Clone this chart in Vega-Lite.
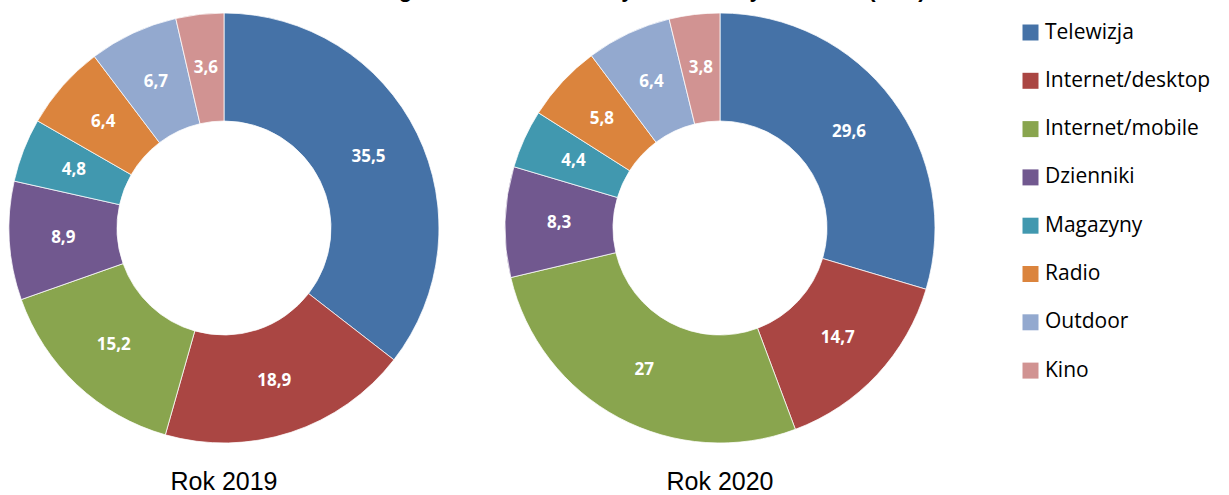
{
  "$schema": "https://vega.github.io/schema/vega-lite/v6.json",
  "background": "white",
  "padding": {"left": 4, "top": -21, "right": 0, "bottom": 0},
  "title": {
    "text": "Udział segmentów mediów w rynku reklamy w Polsce (w %)",
    "font": "Liberation Sans",
    "fontSize": 22,
    "fontWeight": "bold",
    "color": "black",
    "anchor": "middle",
    "offset": 6
  },
  "config": {
    "locale": {"number": {"decimal": ",", "thousands": " ", "grouping": [3], "currency": ["", " zł"]}},
    "view": {"stroke": null}
  },
  "data": {
    "values": [
      {"rok": "Rok 2019", "medium": "Telewizja", "kolejnosc": 1, "wartosc": 35.5},
      {"rok": "Rok 2019", "medium": "Internet/desktop", "kolejnosc": 2, "wartosc": 18.9},
      {"rok": "Rok 2019", "medium": "Internet/mobile", "kolejnosc": 3, "wartosc": 15.2},
      {"rok": "Rok 2019", "medium": "Dzienniki", "kolejnosc": 4, "wartosc": 8.9},
      {"rok": "Rok 2019", "medium": "Magazyny", "kolejnosc": 5, "wartosc": 4.8},
      {"rok": "Rok 2019", "medium": "Radio", "kolejnosc": 6, "wartosc": 6.4},
      {"rok": "Rok 2019", "medium": "Outdoor", "kolejnosc": 7, "wartosc": 6.7},
      {"rok": "Rok 2019", "medium": "Kino", "kolejnosc": 8, "wartosc": 3.6},
      {"rok": "Rok 2020", "medium": "Telewizja", "kolejnosc": 1, "wartosc": 29.6},
      {"rok": "Rok 2020", "medium": "Internet/desktop", "kolejnosc": 2, "wartosc": 14.7},
      {"rok": "Rok 2020", "medium": "Internet/mobile", "kolejnosc": 3, "wartosc": 27},
      {"rok": "Rok 2020", "medium": "Dzienniki", "kolejnosc": 4, "wartosc": 8.3},
      {"rok": "Rok 2020", "medium": "Magazyny", "kolejnosc": 5, "wartosc": 4.4},
      {"rok": "Rok 2020", "medium": "Radio", "kolejnosc": 6, "wartosc": 5.8},
      {"rok": "Rok 2020", "medium": "Outdoor", "kolejnosc": 7, "wartosc": 6.4},
      {"rok": "Rok 2020", "medium": "Kino", "kolejnosc": 8, "wartosc": 3.8}
    ]
  },
  "facet": {
    "column": {
      "field": "rok",
      "type": "nominal",
      "header": {
        "title": null,
        "labelOrient": "bottom",
        "labelFont": "Liberation Sans",
        "labelFontSize": 25,
        "labelColor": "black",
        "labelPadding": 22
      }
    }
  },
  "spacing": 56,
  "spec": {
    "width": 440,
    "height": 440,
    "encoding": {
      "theta": {"field": "wartosc", "type": "quantitative", "stack": true},
      "order": {"field": "kolejnosc", "type": "quantitative"}
    },
    "layer": [
      {
        "mark": {"type": "arc", "outerRadius": 215, "innerRadius": 107, "stroke": "white", "strokeWidth": 0.75},
        "encoding": {
          "color": {
            "field": "medium",
            "type": "nominal",
            "scale": {
              "domain": ["Telewizja", "Internet/desktop", "Internet/mobile", "Dzienniki", "Magazyny", "Radio", "Outdoor", "Kino"],
              "range": ["#4572A7", "#AA4643", "#89A54E", "#71588F", "#4198AF", "#DB843D", "#93A9CF", "#D19392"]
            },
            "legend": {
              "title": null,
              "orient": "right",
              "offset": 66,
              "padding": 14,
              "symbolType": "square",
              "symbolSize": 256,
              "symbolStrokeWidth": 0,
              "symbolOpacity": 1,
              "labelFont": "Open Sans",
              "labelFontSize": 21,
              "labelColor": "black",
              "labelOffset": 4,
              "labelLimit": 0,
              "rowPadding": 26.3
            }
          }
        }
      },
      {
        "mark": {"type": "text", "radius": 161, "font": "Open Sans", "fontSize": 17, "fontWeight": "bold", "fill": "white"},
        "encoding": {
          "text": {"field": "wartosc", "type": "quantitative", "format": ".1~f"}
        }
      }
    ]
  }
}
